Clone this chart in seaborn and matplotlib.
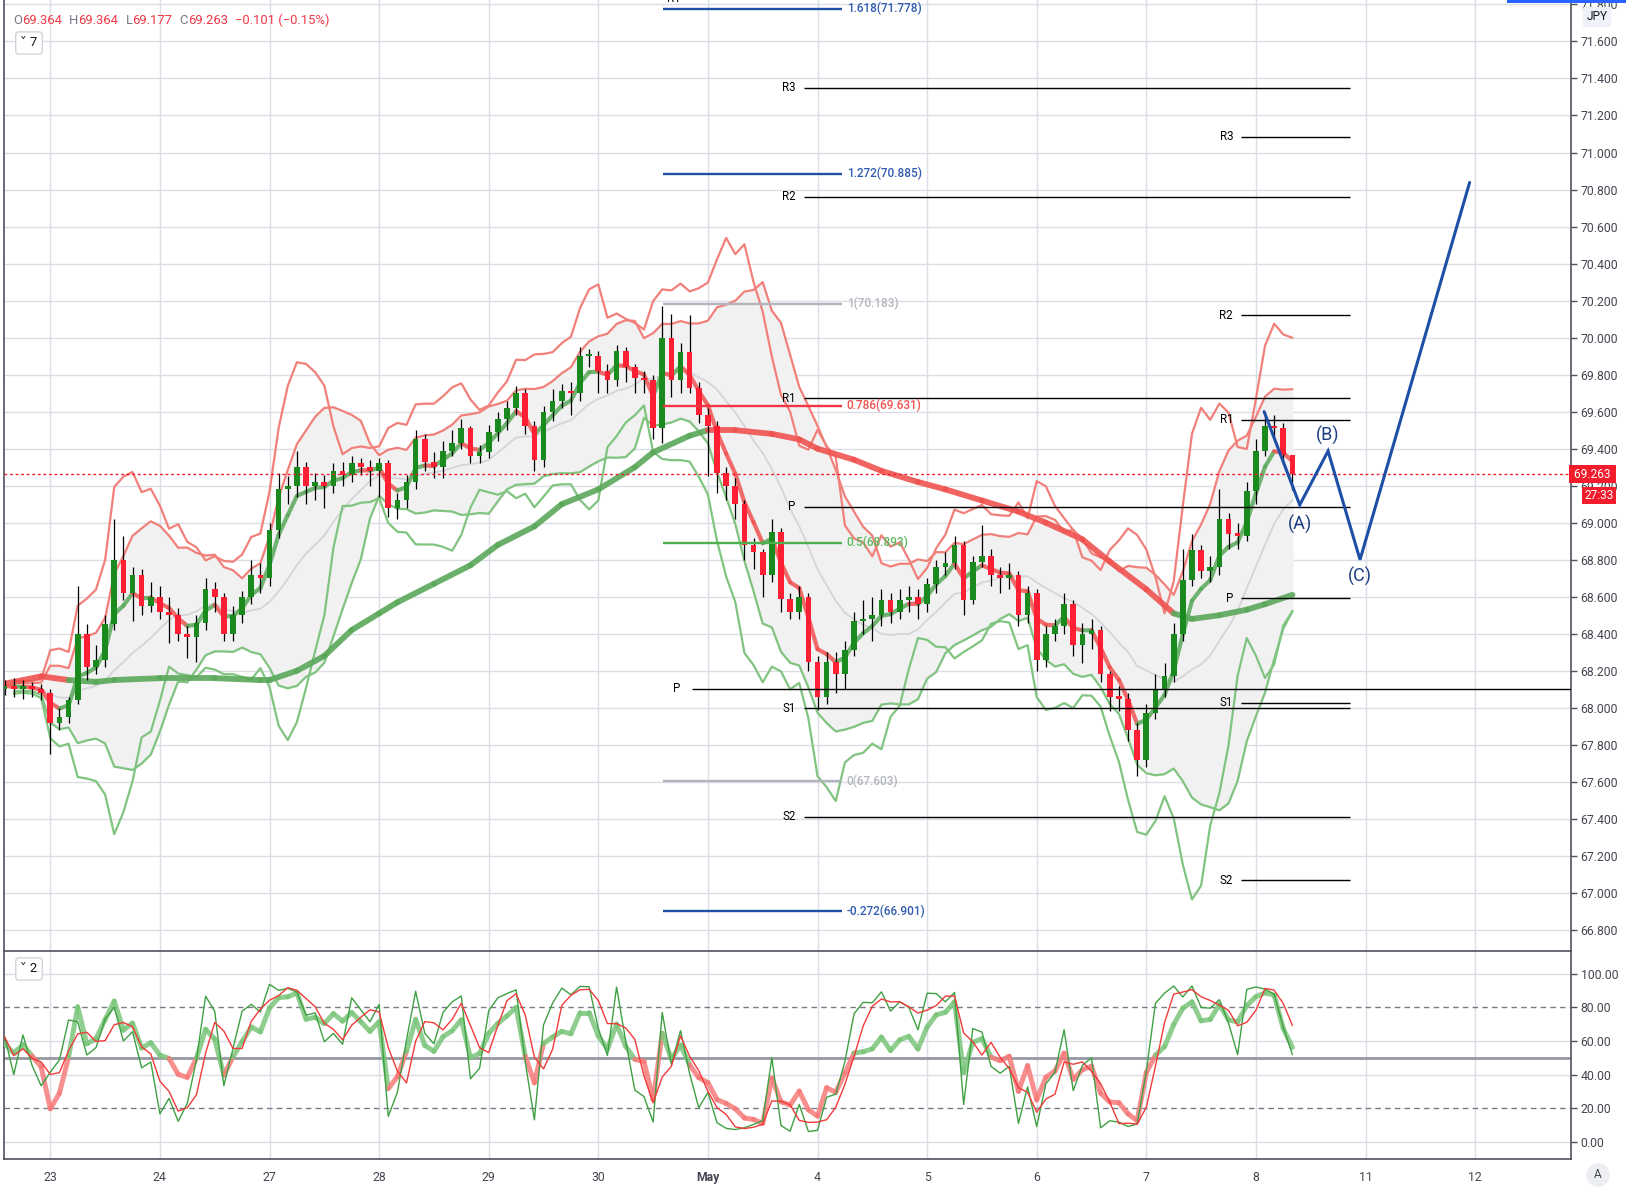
import numpy as np
import pandas as pd
import matplotlib
matplotlib.use("Agg")
import matplotlib.pyplot as plt
import matplotlib.transforms as mtransforms
from matplotlib.collections import LineCollection
from matplotlib.patches import Rectangle
import seaborn as sns

sns.set_theme(style="white")
plt.rcParams['font.family'] = ['Roboto', 'DejaVu Sans']

# ---- data: 2-hour candles, late Apr 22 .. May 8 ----
first_open = 68.10
closes = [
    68.12, 68.10, 68.12, 68.10, 68.08,
    67.92, 67.95, 68.04, 68.40, 68.22, 68.26, 68.45, 68.80, 68.62, 68.72, 68.55, 68.60,
    68.52, 68.50, 68.40, 68.38, 68.46, 68.64, 68.60, 68.40, 68.50, 68.60, 68.72, 68.70,
    68.96, 69.18, 69.20, 69.30, 69.20, 69.22, 69.20, 69.28, 69.26, 69.32, 69.30, 69.28,
    69.32, 69.08, 69.12, 69.22, 69.45, 69.33, 69.30, 69.39, 69.43, 69.51, 69.36, 69.38,
    69.49, 69.56, 69.62, 69.70, 69.52, 69.34, 69.60, 69.66, 69.71, 69.70, 69.90, 69.90,
    69.82, 69.77, 69.93, 69.84, 69.78, 69.77, 69.51, 70.00, 69.77, 69.92, 69.73, 69.58,
    69.52, 69.27, 69.20, 69.10, 68.88, 68.84, 68.72, 68.95, 68.59, 68.52, 68.60, 68.25,
    68.06, 68.25, 68.18, 68.31, 68.47, 68.48, 68.50, 68.58, 68.52, 68.58, 68.60, 68.56,
    68.67, 68.76, 68.78, 68.88, 68.58, 68.79, 68.82, 68.72, 68.70, 68.72, 68.50, 68.62,
    68.26, 68.40, 68.44, 68.56, 68.34, 68.40, 68.42, 68.18, 68.06, 68.05, 67.88, 67.72,
    67.97, 68.10, 68.17, 68.40, 68.69, 68.85, 68.74, 68.76, 69.02, 68.94, 68.93, 69.17,
    69.39, 69.52, 69.51, 69.364, 69.263,
]
highs = [
    68.15, 68.16, 68.15, 68.14, 68.13,
    68.10, 68.00, 68.06, 68.66, 68.45, 68.34, 68.50, 69.02, 68.93, 68.76, 68.75, 68.68,
    68.66, 68.60, 68.54, 68.44, 68.50, 68.70, 68.68, 68.62, 68.55, 68.63, 68.80, 68.78,
    69.00, 69.27, 69.25, 69.39, 69.33, 69.27, 69.26, 69.32, 69.33, 69.36, 69.35, 69.34,
    69.35, 69.34, 69.16, 69.26, 69.50, 69.48, 69.38, 69.44, 69.50, 69.56, 69.52, 69.42,
    69.53, 69.60, 69.66, 69.74, 69.72, 69.55, 69.63, 69.72, 69.75, 69.76, 69.95, 69.94,
    69.93, 69.86, 69.96, 69.95, 69.86, 69.82, 69.80, 70.17, 70.13, 69.97, 70.12, 69.76,
    69.62, 69.55, 69.30, 69.24, 69.12, 68.92, 68.86, 69.02, 68.97, 68.62, 68.66, 68.62,
    68.28, 68.30, 68.30, 68.36, 68.52, 68.58, 68.60, 68.64, 68.62, 68.64, 68.66, 68.64,
    68.70, 68.80, 68.84, 68.93, 68.90, 68.82, 68.99, 68.86, 68.76, 68.78, 68.74, 68.66,
    68.64, 68.44, 68.48, 68.62, 68.58, 68.46, 68.48, 68.44, 68.20, 68.12, 68.08, 67.92,
    68.02, 68.18, 68.24, 68.46, 68.86, 68.94, 68.88, 68.82, 69.18, 69.05, 69.00, 69.22,
    69.45, 69.60, 69.58, 69.54, 69.364,
]
lows = [
    68.07, 68.06, 68.05, 68.06, 68.04,
    67.75, 67.88, 67.92, 68.02, 68.15, 68.18, 68.22, 68.42, 68.58, 68.47, 68.50, 68.52,
    68.48, 68.35, 68.36, 68.27, 68.25, 68.42, 68.52, 68.36, 68.36, 68.46, 68.56, 68.62,
    68.66, 68.92, 69.10, 69.14, 69.10, 69.12, 69.08, 69.16, 69.20, 69.22, 69.26, 69.20,
    69.14, 69.03, 69.02, 69.08, 69.18, 69.28, 69.24, 69.24, 69.36, 69.40, 69.32, 69.32,
    69.35, 69.44, 69.50, 69.58, 69.48, 69.28, 69.30, 69.55, 69.62, 69.58, 69.66, 69.84,
    69.70, 69.70, 69.74, 69.76, 69.70, 69.70, 69.45, 69.43, 69.68, 69.70, 69.70, 69.54,
    69.25, 69.16, 69.12, 69.02, 68.80, 68.75, 68.60, 68.68, 68.52, 68.48, 68.48, 68.20,
    67.99, 68.02, 68.08, 68.10, 68.28, 68.40, 68.36, 68.44, 68.46, 68.48, 68.52, 68.48,
    68.52, 68.62, 68.72, 68.75, 68.50, 68.56, 68.76, 68.66, 68.62, 68.64, 68.44, 68.46,
    68.20, 68.22, 68.36, 68.40, 68.28, 68.24, 68.32, 68.14, 67.98, 67.98, 67.82, 67.63,
    67.68, 67.94, 68.06, 68.14, 68.36, 68.66, 68.70, 68.68, 68.72, 68.86, 68.86, 68.90,
    69.10, 69.36, 69.44, 69.32, 69.177,
]

day_labels = ["23", "24", "27", "28", "29", "30", "May", "4", "5", "6", "7", "8", "11", "12"]
first_day_bar = 5
bars_per_day = 12

# slow moving average (thick line), sampled at bars
ma_bars = [0, 4, 7, 10, 12, 17, 23, 28, 29, 32, 35, 38, 41, 43, 47, 51, 54, 58, 61, 65, 69, 71,
           75, 77, 80, 84, 87, 89, 93, 96, 100, 103, 107, 111, 114, 118, 121, 125, 128, 130,
           133, 136, 138, 141]
ma_vals = [68.13, 68.17, 68.15, 68.14, 68.15, 68.16, 68.16, 68.15, 68.15, 68.20, 68.28, 68.42,
           68.51, 68.57, 68.67, 68.77, 68.88, 68.98, 69.10, 69.18, 69.30, 69.38, 69.47, 69.50,
           69.50, 69.48, 69.45, 69.40, 69.34, 69.28, 69.22, 69.18, 69.12, 69.06, 69.00, 68.91,
           68.79, 68.64, 68.51, 68.48, 68.50, 68.53, 68.56, 68.61]

# pivot levels
piv_names = ["R3", "R2", "R1", "P", "S1", "S2"]
piv_a = [71.35, 70.76, 69.673, 69.085, 67.998, 67.41]
piv_b = [71.085, 70.121, 69.555, 68.592, 68.026, 67.068]
piv_c_p = 68.104

# fibonacci levels
fib_ratios = ["1.618", "1.272", "1", "0.786", "0.5", "0", "-0.272"]
fib_prices = [71.778, 70.885, 70.183, 69.631, 68.893, 67.603, 66.901]

# projected wave
wave_bars = [137.9, 141.8, 144.9, 148.4, 160.4]
wave_prices = [69.60, 69.096, 69.387, 68.80, 70.838]
wave_labels = ["(A)", "(B)", "(C)"]

last_price = 69.263

# ---- derived series ----
df = pd.DataFrame({"close": closes, "high": highs, "low": lows})
df["open"] = [first_open] + closes[:-1]
df.loc[df.index[-1], "open"] = 69.364
df["bar"] = np.arange(len(df))

basis = df.close.rolling(12, min_periods=2).mean()
sd = df.close.rolling(12, min_periods=2).std(ddof=0)
df["in_up"] = basis + 2.2 * sd
df["in_lo"] = basis - 2.2 * sd
df["basis"] = basis
b8 = df.close.rolling(8, min_periods=2).mean()
sd8 = df.close.rolling(8, min_periods=2).std(ddof=0)
df["out_up"] = b8 + 3.4 * sd8
df["out_lo"] = b8 - 3.4 * sd8
df["fast"] = df.close.ewm(span=4, adjust=False).mean()

# wilder rsi, seeded so the first bars are not degenerate
delta = df.close.diff().fillna(0).to_numpy()
ag, al = 0.035, 0.025
rsi = []
for dv in delta:
    ag = (ag * 4 + max(dv, 0)) / 5
    al = (al * 4 + max(-dv, 0)) / 5
    rsi.append(100 - 100 / (1 + ag / al))
df["rsi"] = rsi
lo6 = df.low.rolling(6, min_periods=1).min()
hi6 = df.high.rolling(6, min_periods=1).max()
df["k"] = 100 * (df.close - lo6) / (hi6 - lo6)
df["d"] = df["k"].rolling(3, min_periods=1).mean()

GREEN = "#1b8a1e"
RED = "#ff1f35"
GRID = "#dcdee6"
AXC = "#50535e"

W, H = 1626, 1192
fig = plt.figure(figsize=(W / 100, H / 100), dpi=100)
ax = fig.add_axes([4.1 / W, 1 - 951 / H, (1571 - 4.1) / W, 951 / H])
ax2 = fig.add_axes([4.1 / W, 1 - 1159.4 / H, (1571 - 4.1) / W, (1159.4 - 952) / H])

xmin, xmax = -0.06, 171.5
day_bars = [first_day_bar + bars_per_day * i for i in range(len(day_labels))]


def colored_line(a, x, y, colors, lw, alpha, z):
    pts = np.column_stack([x, y])
    segs = np.stack([pts[:-1], pts[1:]], axis=1)
    a.add_collection(LineCollection(segs, colors=colors, linewidths=lw, alpha=alpha,
                                    capstyle="round", joinstyle="round", zorder=z))


for a in (ax, ax2):
    a.set_xlim(xmin, xmax)
    for b in day_bars:
        a.axvline(b, color=GRID, lw=1, zorder=0)
    a.yaxis.tick_right()
    a.tick_params(axis="y", direction="out", length=4, width=1, color=AXC,
                  labelsize=8.8, labelcolor="#434651", pad=3)
    for s in a.spines.values():
        s.set_color(AXC)
        s.set_linewidth(1.2)
    a.spines["top"].set_visible(False)

# ---- main pane ----
ax.set_ylim(66.686, 71.824)
yt = np.round(np.arange(66.8, 71.81, 0.2), 1)
ax.set_yticks(yt)
ax.set_yticklabels([f"{v:.3f}" for v in yt])
for v in yt:
    ax.axhline(v, color=GRID, lw=1, zorder=0)
ax.set_xticks([])

ax.fill_between(df.bar, df.in_lo, df.in_up, color="#f1f1f2", zorder=1)
sns.lineplot(x=df.bar, y=df.basis, ax=ax, color="#d4d4da", lw=1.3, zorder=2)
for col, c in [("in_up", "#f2807a"), ("out_up", "#f2807a"), ("in_lo", "#80c480"), ("out_lo", "#80c480")]:
    sns.lineplot(x=df.bar, y=df[col], ax=ax, color=c, lw=1.6, zorder=2)

# slow MA: green while price trades above it, red below
ma_cols = []
for j in range(len(ma_bars) - 1):
    seg = df.close.iloc[ma_bars[j]:ma_bars[j + 1] + 1].mean()
    ma_cols.append("#5aa85a" if seg >= (ma_vals[j] + ma_vals[j + 1]) / 2 else "#ef5350")
colored_line(ax, ma_bars, ma_vals, ma_cols, 4.2, 0.9, 3)

fast_cols = ["#5aa85a" if d >= 0 else "#ef5350" for d in np.diff(df.fast)]
colored_line(ax, df.bar, df.fast, fast_cols, 3, 0.85, 3)

up = df.close >= df.open
ax.vlines(df.bar, df.low, df.high, color="black", lw=0.9, zorder=4)
body = (df.close - df.open).abs().clip(lower=0.012)
ax.bar(df.bar, body, bottom=np.minimum(df.open, df.close), width=0.62,
       color=np.where(up, GREEN, RED), zorder=5, linewidth=0)

# pivots
pa_start, pa_end = 87.5, 147.3
pb_start, pb_end = 135.4, 147.3
for name, va, vb in zip(piv_names, piv_a, piv_b):
    ax.hlines(va, pa_start, pa_end, color="black", lw=1, zorder=6)
    ax.text(pa_start - 0.9, va, name, ha="right", va="center", fontsize=8.3, color="black", zorder=7)
    ax.hlines(vb, pb_start, pb_end, color="black", lw=1, zorder=6)
    ax.text(pb_start - 0.9, vb, name, ha="right", va="center", fontsize=8.3, color="black", zorder=7)
ax.hlines(piv_c_p, 75.3, xmax, color="black", lw=1, zorder=6)
ax.text(74.0, piv_c_p, "P", ha="right", va="center", fontsize=8.3, color="black")
ax.text(74.0, 71.83, "R1", ha="right", va="center", fontsize=8.3, color="black", clip_on=True)

# fibonacci
fib_line_cols = ["#1f4ea3", "#1f4ea3", "#b2b5be", "#f23645", "#4caf50", "#b2b5be", "#1f4ea3"]
fib_text_cols = ["#2f5bb0", "#2f5bb0", "#b2b5be", "#f0504e", "#5cb85c", "#b2b5be", "#2f5bb0"]
f_start, f_end = 72.1, 91.7
for r, p, lc, tc in zip(fib_ratios, fib_prices, fib_line_cols, fib_text_cols):
    ax.hlines(p, f_start, f_end, color=lc, lw=1.7, zorder=6)
    ax.text(f_end + 0.5, p, f"{r}({p:.3f})", ha="left", va="center", fontsize=8.5,
            color=tc, fontweight="medium", zorder=7)

# wave projection
ax.plot(wave_bars, wave_prices, color="#1d4fa5", lw=2.2, zorder=8, solid_joinstyle="miter")
for lab, b, p, off in zip(wave_labels, wave_bars[1:4], wave_prices[1:4], [-0.105, 0.085, -0.09]):
    ax.text(b, p + off, lab, ha="center", va="center", fontsize=13, color="#1d3f80", zorder=8)

# last price
ax.axhline(last_price, color="#f21c2c", lw=1, ls=(0, (2, 2)), zorder=7)
tr = mtransforms.blended_transform_factory(ax.transAxes, ax.transData)
ax.text(1.0, last_price, " 69.263 ", transform=tr, ha="left", va="center", fontsize=8.6,
        color="white", bbox=dict(facecolor="#f21c2c", edgecolor="none", pad=1.5), clip_on=False)
ax.text(1.0085, last_price - 0.118, "27:33", transform=tr, ha="left", va="center", fontsize=8.6,
        color="white", bbox=dict(facecolor="#f21c2c", edgecolor="none", pad=1.5), clip_on=False)

# ---- lower pane ----
ax2.set_ylim(-10.5, 113)
lt = [0, 20, 40, 60, 80, 100]
ax2.set_yticks(lt)
ax2.set_yticklabels([f"{v:.2f}" for v in lt])
for v in [0, 40, 60, 100]:
    ax2.axhline(v, color=GRID, lw=1, zorder=0)
for v in [20, 80]:
    ax2.axhline(v, color="#787b86", lw=1, ls=(0, (4, 3)), zorder=1)
ax2.axhline(50, color="#9598a1", lw=2, zorder=1)

rsi_cols = ["#7cc67c" if (a + b) / 2 >= 50 else "#f77b7b" for a, b in zip(df.rsi[:-1], df.rsi[1:])]
colored_line(ax2, df.bar, df.rsi, rsi_cols, 3.6, 0.85, 3)
sns.lineplot(x=df.bar, y=df.k, ax=ax2, color="#3fa043", lw=1, zorder=4)
sns.lineplot(x=df.bar, y=df.d, ax=ax2, color="#f23a3a", lw=1, zorder=4)

ax2.set_xticks(day_bars)
ax2.set_xticklabels(day_labels)
ax2.tick_params(axis="x", length=0, pad=8, labelsize=8.8, labelcolor="#434651")
for t in ax2.get_xticklabels():
    if t.get_text() == "May":
        t.set_fontweight("bold")
ax.set_xlabel("")
ax.set_ylabel("")
ax2.set_xlabel("")
ax2.set_ylabel("")

# ---- header / badges ----
fig.canvas.draw()
rend = fig.canvas.get_renderer()
GRAY = "#787b86"
LRED = "#f23645"
parts = [("O", GRAY), ("69.364", LRED), ("H", GRAY), ("69.364", LRED), ("L", GRAY),
         ("69.177", LRED), ("C", GRAY), ("69.263", LRED), ("\u22120.101 (\u22120.15%)", LRED)]
xpx = 13.5
for i, (txt, col) in enumerate(parts):
    t = fig.text(xpx / W, 1 - 20 / H, txt, color=col, fontsize=9.4, ha="left", va="center")
    bb = t.get_window_extent(rend)
    xpx = bb.x1 + (7 if i % 2 == 1 else 0)

fig.text(29 / W, 1 - 43 / H, "\u02c5 7", fontsize=9.5, color="#131722", ha="center", va="center",
         bbox=dict(boxstyle="round,pad=0.35,rounding_size=0.25", facecolor="white", edgecolor="#d1d4dc"))
fig.text(29 / W, 1 - 969 / H, "\u02c5 2", fontsize=9.5, color="#131722", ha="center", va="center",
         bbox=dict(boxstyle="round,pad=0.35,rounding_size=0.25", facecolor="white", edgecolor="#d1d4dc"))
fig.text(1597 / W, 1 - 17 / H, "JPY", fontsize=8.6, color="#131722", ha="center", va="center",
         bbox=dict(boxstyle="round,pad=0.3,rounding_size=0.2", facecolor="#eef1f8", edgecolor="none"))
fig.text(1598 / W, 1 - 1175 / H, "A", fontsize=8.5, color="#434651", ha="center", va="center",
         bbox=dict(boxstyle="circle,pad=0.45", facecolor="#eceef2", edgecolor="none"))
fig.patches.append(Rectangle((1507 / W, 1 - 2.5 / H), 119 / W, 2.5 / H, transform=fig.transFigure,
                             facecolor="#2962ff", edgecolor="none"))

fig.savefig("out.png", dpi=100, facecolor="white")
